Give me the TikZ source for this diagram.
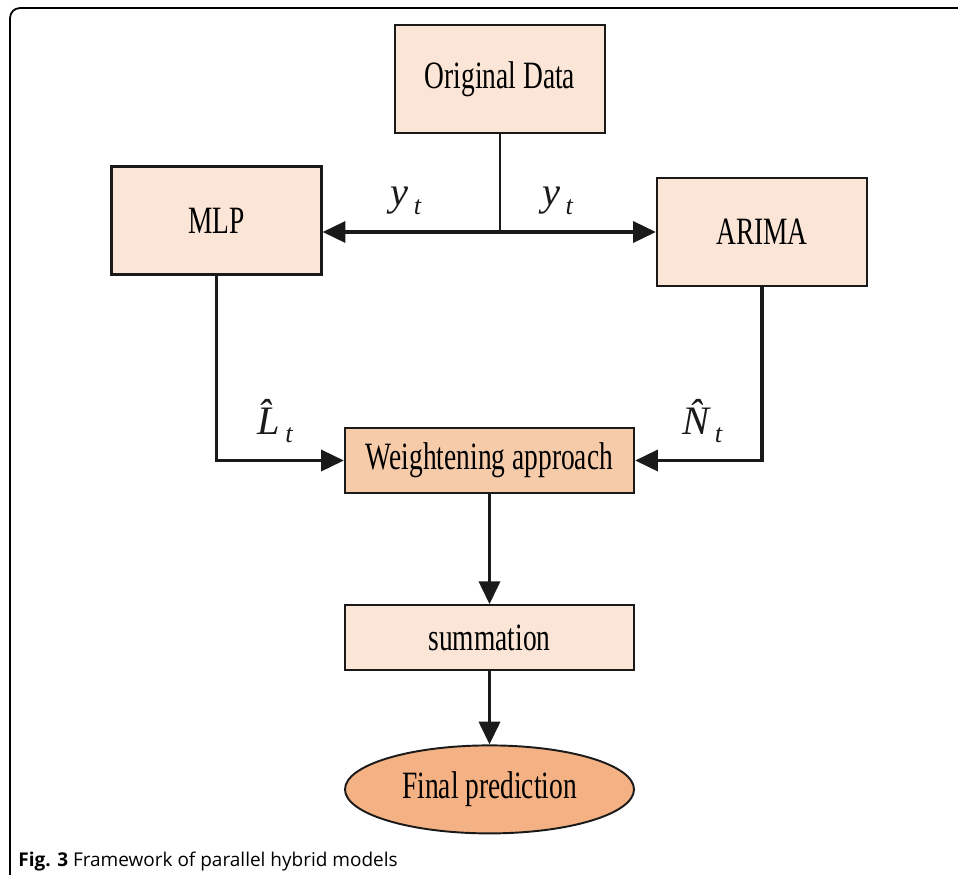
\documentclass[tikz,border=0pt]{standalone}
\usepackage{fontspec}
\setmainfont[FakeStretch=0.71]{Liberation Serif}
\newfontfamily\labelfont{Liberation Serif}
\newfontfamily\captionfont{Open Sans}
\usepackage{tikz}
\usetikzlibrary{
    positioning,     % For relative node placement
    arrows.meta,     % For the filled triangle tips
    shapes.geometric % For the ellipse
}
\definecolor{boxfill}{HTML}{FAE5D6}
\definecolor{weightfill}{HTML}{F6CBAA}
\definecolor{finalfill}{HTML}{F4B183}
\definecolor{linecolor}{HTML}{1A1A1A}

% an italic signal name with its lowered index
\newcommand{\sig}[2]{{\labelfont\itshape #1\kern3pt\raisebox{-0.45ex}{\fontsize{15}{15}\selectfont #2}}}

\begin{document}
\begin{tikzpicture}

    % --- Style Definitions ---
    \tikzset{
        % the plain boxes of the flow
        block/.style={
            rectangle,
            draw=linecolor,
            line width=1.3pt,
            fill=boxfill,
            minimum width=4.2cm,
            minimum height=2.16cm,
            font=\fontsize{22}{24}\selectfont,
            inner sep=0pt
        },
        % the flat boxes in the middle column
        flatblock/.style={
            block,
            minimum width=5.78cm,
            minimum height=1.3cm
        },
        % the oval at the end
        result/.style={
            ellipse,
            draw=linecolor,
            line width=1.1pt,
            fill=finalfill,
            minimum width=5.78cm,
            minimum height=1.76cm,
            font=\fontsize{22}{24}\selectfont,
            inner sep=0pt
        },
        % the connectors
        arrow/.style={
            -{Triangle[length=13pt,width=12pt]},
            line width=2pt,
            linecolor
        },
        % the signal labels
        signal/.style={
            font=\fontsize{23}{25}\selectfont,
            inner sep=0pt
        }
    }

    % --- Frame and page size ---
    \useasboundingbox (0,0) rectangle (19.16,-17.48);
    \draw[line width=1pt, rounded corners=0.2cm]
        (0.2,-17.6) -- (0.2,-0.16) -- (19.3,-0.16);

    % --- Node Placement ---
    \node[block] (orig) at (10.0,-1.58) {Original Data};
    \node[block] (mlp) at (4.33,-4.41) {MLP};
    \node[block] (arima) at (15.24,-4.64) {ARIMA};

    \node[flatblock, fill=weightfill] (weight) at (9.79,-9.21) {Weightening approach};
    \node[flatblock, below=2.2cm of weight] (summ) {summation};
    \node[result, below=1.46cm of summ] (final) {Final prediction};

    % caption
    \node[anchor=base west, font=\captionfont\fontsize{10.8}{13}\selectfont, inner sep=0pt]
        (caption) at (0.36,-17.32) {\textbf{Fig. 3} Framework of parallel hybrid models};

    % --- Drawing Connections ---

    % 1. Splitting the data
    \coordinate (split) at (orig.south |- arima.west);
    \draw[line width=1.4pt, linecolor] (orig.south) -- (split);
    \draw[arrow] (split) -- (split -| mlp.east)
        node[signal, pos=0.53, above=9pt] (ylabel1) {\sig{y}{t}};
    \draw[arrow] (split) -- (arima.west)
        node[signal, pos=0.37, above=9pt] (ylabel2) {\sig{y}{t}};

    % 2. Both models feed the weighting
    \draw[arrow] (mlp.south) |- (weight.west)
        node[signal, pos=0.73, above=9pt] (lhat) {\sig{\^{L}}{t}};
    \draw[arrow] (arima.south) |- (weight.east)
        node[signal, pos=0.735, above=9pt] (nhat) {\sig{\^{N}}{t}};

    % 3. Down to the result
    \draw[arrow] (weight.south) -- (summ.north);
    \draw[arrow] (summ.south) -- (final.north);

\end{tikzpicture}
\end{document}
